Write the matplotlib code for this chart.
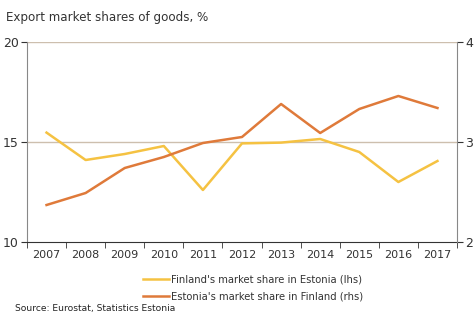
import matplotlib
matplotlib.use("Agg")
import matplotlib.pyplot as plt
from matplotlib.ticker import FixedLocator

years = ["2007", "2008", "2009", "2010", "2011", "2012", "2013", "2014", "2015", "2016", "2017"]
finland_in_estonia = [15.47, 14.1, 14.4, 14.8, 12.6, 14.93, 14.97, 15.15, 14.5, 13.0, 14.05]
estonia_in_finland = [2.37, 2.49, 2.74, 2.85, 2.99, 3.05, 3.38, 3.09, 3.33, 3.46, 3.34]
left_ticks = [10, 15, 20]
right_ticks = [2, 3, 4]

plt.rcParams['font.family'] = ['DejaVu Sans']
fig = plt.figure(figsize=(4.77, 3.21), dpi=100)
ax = fig.add_axes([27/477, 1 - 242/321, (457-27)/477, 200/321])
ax2 = ax.twinx()

x = list(range(len(years)))
yellow = "#F5C242"
orange = "#DF7A3A"
grid_c = "#CDBFAE"

ax.set_xlim(-0.5, len(years) - 0.5)
ax.set_ylim(10, 20)
ax2.set_ylim(2, 4)

for t in [15, 20]:
    ax.axhline(t, color=grid_c, lw=1, zorder=0)

l1, = ax.plot(x, finland_in_estonia, color=yellow, lw=1.8, zorder=3)
l2, = ax2.plot(x, estonia_in_finland, color=orange, lw=1.8, zorder=3)
ax2.set_zorder(ax.get_zorder() + 1)
ax2.patch.set_visible(False)

ax.set_yticks(left_ticks)
ax2.set_yticks(right_ticks)
ax.set_xticks(x)
ax.set_xticklabels(years)
ax.xaxis.set_minor_locator(FixedLocator([i - 0.5 for i in range(len(years) + 1)]))
ax.tick_params(axis='x', which='major', length=0, labelsize=8, colors="#333333", pad=6)
ax.tick_params(axis='x', which='minor', length=4, direction='out', color="#333333")
ax.tick_params(axis='y', length=4, labelsize=9, colors="#333333", pad=2)
ax2.tick_params(axis='y', length=4, labelsize=9, colors="#333333", pad=2)

for a in (ax, ax2):
    a.spines['top'].set_visible(False)
    a.spines['left'].set_color("#888888")
    a.spines['right'].set_color("#888888")
    a.spines['bottom'].set_color("#333333")
ax.spines['right'].set_visible(False)
ax2.spines['left'].set_visible(False)
ax2.spines['bottom'].set_visible(False)

fig.text(6/477, 1 - 18/321, "Export market shares of goods, %", fontsize=8.6, color="#333333", va='center')

leg = fig.legend([l1, l2], ["Finland's market share in Estonia (lhs)", "Estonia's market share in Finland (rhs)"],
                 loc='upper left', bbox_to_anchor=(143/477, 1 - 274/321), frameon=False, fontsize=7.2,
                 handlelength=2.6, handletextpad=0.2, labelspacing=0.75, labelcolor="#333333",
                 borderpad=0, borderaxespad=0)
fig.text(15/477, 1 - 309/321, "Source: Eurostat, Statistics Estonia", fontsize=6.6, color="#222222", va='center')

fig.savefig("out.png", dpi=100)
